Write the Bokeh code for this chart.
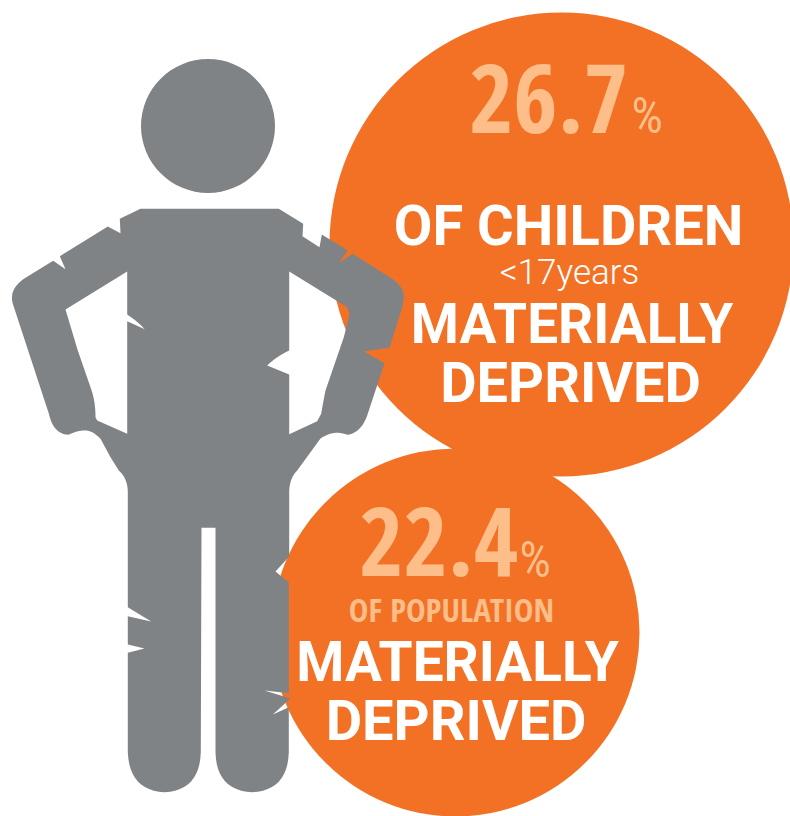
from bokeh.plotting import figure
from bokeh.models import ColumnDataSource, Range1d
from bokeh.core.properties import value
from bokeh.embed import file_html
from bokeh.resources import INLINE

ORANGE = "#F37124"
GRAY = "#808386"
PEACH = "#FDBE8A"

# Circles and head: centre x, centre y, radius
disc_x = [561, 455]
disc_y = [244, 632]
disc_r = [232, 184]
head = (207.5, 125.5, 67)

# Silhouette: points; a 4-tuple is a quadratic curve (control x, control y, end x, end y)
outline = [
    (140, 208.3), (278.3, 208.3), (302.7, 223.3), (302, 235.7), (319, 246.7), (321.3, 234),
    (347.3, 250), (338, 262.7), (352, 253.3), (393.3, 279.3), (404, 288, 403.3, 297),
    (402.3, 305), (389, 347.3), (363.3, 351), (384, 362.7), (366.7, 415), (360, 433, 346.7, 434.3),
    (333, 429, 320, 438), (310, 451.7), (296.7, 470), (288.7, 478, 288.7, 492),
    (288.7, 556), (275, 571), (288.3, 582), (288.3, 692.7), (264, 690), (290, 698), (272.3, 714),
    (288.3, 706.7), (288.3, 752), (287, 790, 251.7, 791.7), (216, 790, 215, 752),
    (215, 527.3), (201, 527.3), (200.3, 752), (199, 790, 164, 791.7), (129, 790, 127.3, 752),
    (127.3, 652.3), (144, 648), (127.3, 644), (127.3, 615.7), (150.7, 621), (127.3, 606.7),
    (127.3, 492), (127.3, 478, 118.3, 470), (110, 456.7), (100, 438.3),
    (92, 430, 85, 430), (76, 430, 68.3, 434.3), (53, 434, 48.3, 413), (12.3, 303.3),
    (8, 288, 25, 277.3), (52.7, 260.3), (65, 268.7), (59.3, 255.7), (107.3, 226), (120, 232.7), (119.3, 218.3),
]
hole_left = [
    (126.7, 271), (65, 309), (77.3, 350), (90, 386.7), (95, 400, 95, 416.7), (96.7, 420),
    (126.7, 433.3), (126.7, 320.7), (144.3, 328.7), (136.7, 320.7, 126.7, 314),
]
hole_right = [
    (288.7, 271), (346.7, 306.7), (349, 314), (343.3, 336.7), (325, 390), (322, 405, 320.7, 413.3),
    (316.7, 420.7), (288.7, 433.7), (288.7, 374), (266.7, 365), (276, 356, 288.7, 350),
]

# Texts
big_labels = ["26.7", "22.4"]
big_x = [548, 438]
big_y = [132.7, 576]
pct_labels = ["%", "%"]
pct_x = [646.5, 534.5]
pct_y = [133, 577]
wide_labels = ["OF CHILDREN", "DEPRIVED", "DEPRIVED"]
wide_x = [568, 570, 455.5]
wide_y = [245, 402, 740]
mat_labels = ["MATERIALLY", "MATERIALLY"]
mat_x = [571.5, 457]
mat_y = [343, 681.7]
small_label = ["<17years"]
small_x = [569]
small_y = [284]
pop_label = ["OF POPULATION"]
pop_x = [451]
pop_y = [620.7]


def flatten(path):
    xs, ys = [], []
    for pt in path:
        if len(pt) == 2:
            xs.append(pt[0]); ys.append(pt[1])
        else:
            x0, y0 = xs[-1], ys[-1]
            cx, cy, x1, y1 = pt
            for i in range(1, 13):
                t = i / 12
                xs.append((1 - t) ** 2 * x0 + 2 * t * (1 - t) * cx + t * t * x1)
                ys.append((1 - t) ** 2 * y0 + 2 * t * (1 - t) * cy + t * t * y1)
    return xs, ys


p = figure(width=790, height=816, output_backend="svg", toolbar_location=None,
           x_range=Range1d(0, 790), y_range=Range1d(816, 0), min_border=0)
p.axis.visible = False
p.grid.visible = False
p.outline_line_color = None
p.background_fill_color = "white"
p.border_fill_color = "white"

p.circle(disc_x, disc_y, radius=disc_r, fill_color=ORANGE, line_color=None)

ox, oy = flatten(outline)
lx, ly = flatten(hole_left)
rx, ry = flatten(hole_right)
p.multi_polygons(xs=[[[ox, lx, rx]]], ys=[[[oy, ly, ry]]], fill_color=GRAY, line_color=None)
p.circle([head[0]], [head[1]], radius=head[2], fill_color=GRAY, line_color=None)


def label(xs, ys, texts, font, size, color, style="normal", lift=0):
    src = ColumnDataSource(dict(x=xs, y=ys, t=texts))
    p.text("x", "y", text="t", source=src, text_font=value(font), text_font_size=size,
           text_color=color, text_font_style=style, text_align="center", text_baseline="alphabetic",
           y_offset=-lift)


label(big_x, big_y, big_labels, "Open Sans Condensed", "96px", PEACH, "bold", lift=35)
label(pct_x, pct_y, pct_labels, "Roboto Condensed", "50px", PEACH, lift=18)
label(wide_x, wide_y, wide_labels, "Roboto", "56px", "white", "bold", lift=20)
label(mat_x, mat_y, mat_labels, "Roboto", "55px", "white", "bold", lift=20)
label(small_x, small_y, small_label, "Roboto Light", "35px", "white", lift=12)
label(pop_x, pop_y, pop_label, "Open Sans Condensed", "33px", PEACH, "bold", lift=12)

open("out.html", "w").write(file_html(p, INLINE))
